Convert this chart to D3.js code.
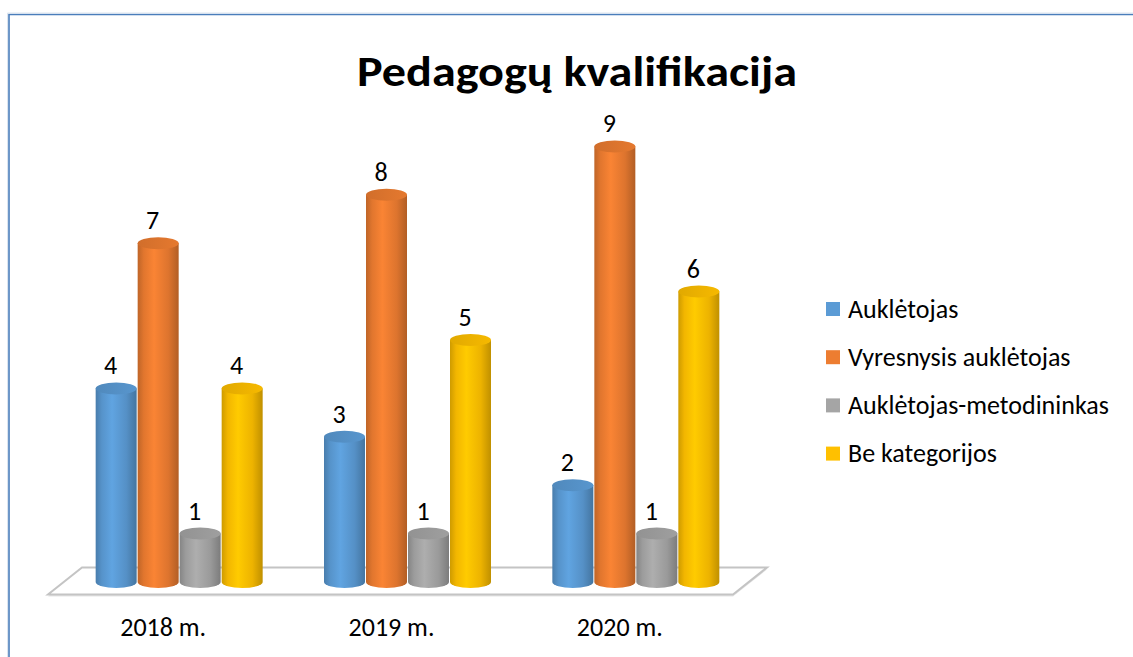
<!DOCTYPE html>
<html lang="lt">
  <head>
    <meta charset="UTF-8" />
    <title>Pedagogų kvalifikacija</title>
    <style>
      html, body { margin: 0; padding: 0; background: #fff; }
      svg { display: block; font-family: Carlito, Calibri, "Open Sans", sans-serif; }
    </style>
  </head>
  <body>
    <svg width="1133" height="657"></svg>

    <script src="https://d3js.org/d3.v7.min.js"></script>
    <script>
      const years = ["2018 m.", "2019 m.", "2020 m."];
      const seriesNames = ["Auklėtojas", "Vyresnysis auklėtojas", "Auklėtojas-metodininkas", "Be kategorijos"];
      const seriesColors = ["#5B9BD5", "#ED7D31", "#A5A5A5", "#FFC000"];
      const auklėtojas = [4, 3, 2];
      const vyresnysis = [7, 8, 9];
      const metodininkas = [1, 1, 1];
      const beKategorijos = [4, 5, 6];
      const seriesValues = [auklėtojas, vyresnysis, metodininkas, beKategorijos];

      const svg = d3.select("svg");
      const defs = svg.append("defs");

      // chart frame (only top and left edges are visible)
      svg.append("path")
        .attr("d", "M9,657 V14.5 H1133")
        .attr("fill", "none")
        .attr("stroke", "#4a7ebb")
        .attr("stroke-width", 1.6);
      svg.append("path")
        .attr("d", "M7.5,657 V13 H1133")
        .attr("fill", "none")
        .attr("stroke", "#dbe4ef")
        .attr("stroke-width", 1);

      svg.append("text")
        .attr("x", 577)
        .attr("y", 86)
        .attr("text-anchor", "middle")
        .attr("font-size", 42)
        .attr("font-weight", "bold")
        .attr("textLength", 440)
        .attr("lengthAdjust", "spacingAndGlyphs")
        .text("Pedagogų kvalifikacija");

      const x = d3.scaleBand().domain(years).range([65, 750]);
      const xs = d3.scaleBand().domain(seriesNames).range([-84, 84]);
      const y = d3.scaleLinear().domain([0, 9]).range([582, 146.4]);

      // floor
      const depth = 13.5, skew = 17;
      const [fx0, fx1] = x.range();
      const base = y(0) - 1;
      const floorPts = [
        [fx0 - skew, base + depth], [fx1 - skew, base + depth],
        [fx1 + skew, base - depth], [fx0 + skew, base - depth]
      ];
      svg.append("polygon")
        .attr("points", floorPts.map((p) => [p[0], p[1] + 2].join(",")).join(" "))
        .attr("fill", "#e6e6e6");
      svg.append("polygon")
        .attr("points", floorPts.map((p) => p.join(",")).join(" "))
        .attr("fill", "#fff")
        .attr("stroke", "#c4c4c4")
        .attr("stroke-width", 2);

      // gradients per series
      seriesColors.forEach((c, i) => {
        const col = d3.color(c);
        const g = defs.append("linearGradient").attr("id", "body" + i)
          .attr("x1", "0%").attr("x2", "100%").attr("y1", "0%").attr("y2", "0%");
        g.append("stop").attr("offset", "0%").attr("stop-color", col.darker(0.6));
        g.append("stop").attr("offset", "15%").attr("stop-color", col.darker(0.15));
        g.append("stop").attr("offset", "40%").attr("stop-color", col.brighter(0.15));
        g.append("stop").attr("offset", "75%").attr("stop-color", col.darker(0.2));
        g.append("stop").attr("offset", "100%").attr("stop-color", col.darker(0.8));
        const t = defs.append("linearGradient").attr("id", "top" + i)
          .attr("x1", "0%").attr("x2", "100%").attr("y1", "0%").attr("y2", "0%");
        t.append("stop").attr("offset", "0%").attr("stop-color", col.darker(0.35));
        t.append("stop").attr("offset", "100%").attr("stop-color", col.darker(0.1));
      });

      const rx = xs.bandwidth() / 2 - 0.5;
      const ry = 6;
      const bars = [];
      years.forEach((yr, j) => {
        seriesNames.forEach((s, i) => {
          bars.push({ year: yr, series: s, i, value: seriesValues[i][j] });
        });
      });

      const cyl = svg.append("g").selectAll("g")
        .data(bars)
        .join("g")
        .attr("transform", (d) => `translate(${x(d.year) + x.bandwidth() / 2 + xs(d.series) + xs.bandwidth() / 2},0)`);

      cyl.append("path")
        .attr("d", (d) => {
          const top = y(d.value), bot = y(0);
          return `M${-rx},${top} L${-rx},${bot} A${rx},${ry} 0 0 0 ${rx},${bot} L${rx},${top} Z`;
        })
        .attr("fill", (d) => `url(#body${d.i})`);

      cyl.append("ellipse")
        .attr("cx", 0)
        .attr("cy", (d) => y(d.value))
        .attr("rx", rx)
        .attr("ry", ry)
        .attr("fill", (d) => `url(#top${d.i})`);

      cyl.append("text")
        .attr("x", -5.5)
        .attr("y", (d) => y(d.value) - 14)
        .attr("text-anchor", "middle")
        .attr("font-size", 26)
        .text((d) => d.value);

      // category labels
      svg.append("g").selectAll("text")
        .data(years)
        .join("text")
        .attr("x", (d) => x(d) + x.bandwidth() / 2 - 16)
        .attr("y", 636)
        .attr("text-anchor", "middle")
        .attr("font-size", 26)
        .text((d) => d);

      // legend
      const legend = svg.append("g").selectAll("g")
        .data(seriesNames)
        .join("g")
        .attr("transform", (d, i) => `translate(826,${309 + i * 48.2})`);
      legend.append("rect")
        .attr("x", 0).attr("y", -7)
        .attr("width", 14).attr("height", 14)
        .attr("fill", (d, i) => seriesColors[i]);
      legend.append("text")
        .attr("x", 22)
        .attr("y", 8.5)
        .attr("font-size", 26)
        .text((d) => d);
    </script>
  </body>
</html>
